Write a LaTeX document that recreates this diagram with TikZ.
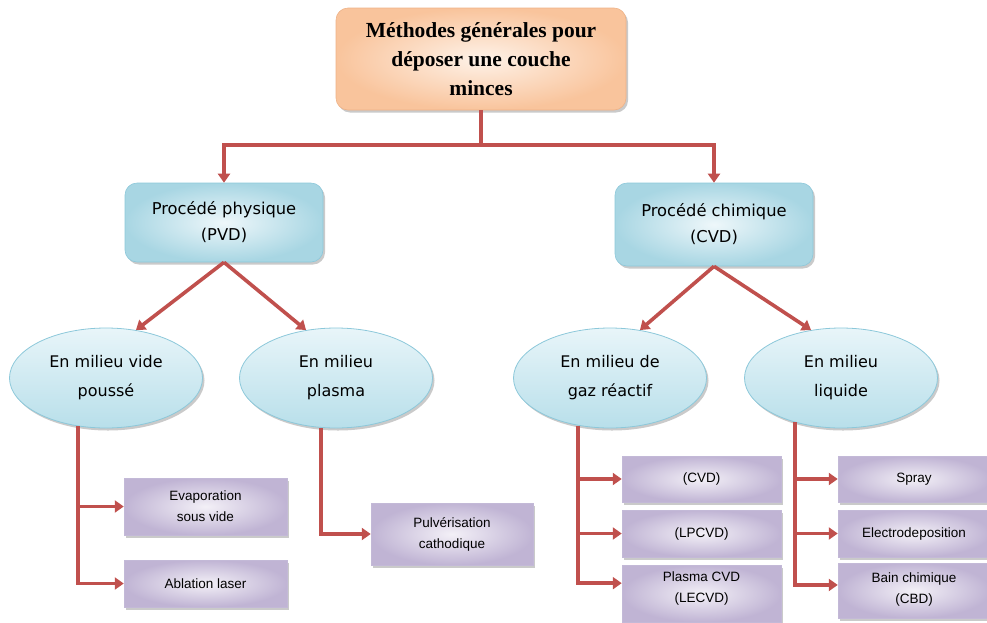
\documentclass[tikz,border=0pt]{standalone}
\usepackage{fontspec}
\setmainfont{DejaVu Sans}
\newfontfamily\titlefont{Liberation Serif}
\newfontfamily\smallfont{Liberation Sans}
\usetikzlibrary{shapes.geometric,arrows.meta,shadows,calc}
\definecolor{linkred}{RGB}{192,80,77}
\definecolor{orEdge}{RGB}{249,196,156}
\definecolor{orCenter}{RGB}{254,242,232}
\definecolor{orBorder}{RGB}{238,178,135}
\definecolor{blEdge}{RGB}{168,214,227}
\definecolor{blCenter}{RGB}{238,247,250}
\definecolor{blBorder}{RGB}{140,200,218}
\definecolor{elTop}{RGB}{232,245,249}
\definecolor{elBot}{RGB}{184,223,234}
\definecolor{puEdge}{RGB}{192,180,212}
\definecolor{puCenter}{RGB}{243,240,247}
\definecolor{puBorder}{RGB}{195,185,215}
\tikzset{
  softshadow/.style={drop shadow={shadow xshift=2pt,shadow yshift=-2.5pt,opacity=0.35,fill=black!60}},
  titlebox/.style={rectangle,rounded corners=12pt,draw=orBorder,line width=0.6pt,
    shading=radial,inner color=orCenter,outer color=orEdge,softshadow,
    align=center,font=\titlefont\bfseries\fontsize{21.5}{29}\selectfont},
  procbox/.style={rectangle,rounded corners=12pt,draw=blBorder,line width=0.6pt,
    shading=radial,inner color=blCenter,outer color=blEdge,softshadow,
    align=center,font=\fontsize{16.3}{26}\selectfont},
  milieu/.style={ellipse,draw=blBorder,line width=0.8pt,minimum width=193pt,minimum height=100pt,
    inner sep=0pt,top color=elTop,bottom color=elBot,softshadow,
    align=center,font=\fontsize{16}{29}\selectfont},
  leaf/.style={rectangle,draw=puBorder,line width=0.5pt,shading=radial,inner color=puCenter,
    outer color=puEdge,softshadow,inner sep=0pt,align=center,
    font=\smallfont\fontsize{13.5}{21}\selectfont},
  link/.style={draw=linkred,line width=3.6pt},
  linkarrow/.style={link,-{Triangle[length=9pt,width=12pt]}},
}
\begin{document}
\begin{tikzpicture}[x=1pt,y=-1pt]
\useasboundingbox (0,0) rectangle (987,622);

\node[titlebox,minimum width=290pt,minimum height=102pt] (top) at (481,59)
  {Méthodes générales pour\\déposer une couche\\minces};

\node[procbox,minimum width=198pt,minimum height=79pt] (pvd) at (224,222.5)
  {Procédé physique\\(PVD)};
\node[procbox,minimum width=198pt,minimum height=83pt] (cvd) at (714,224.5)
  {Procédé chimique\\(CVD)};

\node[milieu] (e1) at (106,378) {En milieu vide\\poussé};
\node[milieu] (e2) at (336,378) {En milieu\\plasma};
\node[milieu] (e3) at (610,378) {En milieu de\\gaz réactif};
\node[milieu] (e4) at (841,378) {En milieu\\liquide};

\node[leaf,minimum width=163pt,minimum height=57pt] (evap) at (205.5,506.5) {Evaporation\\sous vide};
\node[leaf,minimum width=163pt,minimum height=47pt] (abl) at (205.5,583.5) {Ablation laser};
\node[leaf,minimum width=162pt,minimum height=62pt] (pulv) at (452,534) {Pulvérisation\\cathodique};
\node[leaf,minimum width=159pt,minimum height=46pt] (c1) at (701.5,479) {(CVD)};
\node[leaf,minimum width=159pt,minimum height=47pt] (c2) at (701.5,533.5) {(LPCVD)};
\node[leaf,minimum width=159pt,minimum height=57pt,text depth=12pt] (c3) at (701.5,593.5) {Plasma CVD\\(LECVD)};
\node[leaf,minimum width=152pt,minimum height=46pt] (l1) at (914,479) {Spray};
\node[leaf,minimum width=152pt,minimum height=47pt] (l2) at (914,533.5) {Electrodeposition};
\node[leaf,minimum width=152pt,minimum height=55pt,text depth=5pt] (l3) at (914,590.5) {Bain chimique\\(CBD)};

% top connectors
\coordinate (j1) at (top.south |- 0,145);
\draw[link] (top.south) -- (j1);
\draw[linkarrow] (j1) -| (pvd.north);
\draw[linkarrow] (j1) -| (cvd.north);

% diagonal connectors
\draw[linkarrow] (pvd.south) -- (e1.58);
\draw[linkarrow] (pvd.south) -- (e2.122);
\draw[linkarrow] (cvd.south) -- (e3.58);
\draw[linkarrow] (cvd.south) -- (e4.122);

% leaves
\coordinate (c3in) at ($(c3.north west)!0.32!(c3.south west)$);
\coordinate (l3in) at ($(l3.north west)!0.4!(l3.south west)$);

\draw[linkarrow] (e1.240) |- (abl.west);
\draw[linkarrow] (e1.240 |- evap.west) -- (evap.west);

\draw[linkarrow] (e2.253) |- (pulv.west);

\draw[linkarrow] (e3.236) |- (c3in);
\draw[linkarrow] (e3.236 |- c1.west) -- (c1.west);
\draw[linkarrow] (e3.236 |- c2.west) -- (c2.west);

\draw[linkarrow] (e4.224) |- (l3in);
\draw[linkarrow] (e4.224 |- l1.west) -- (l1.west);
\draw[linkarrow] (e4.224 |- l2.west) -- (l2.west);
\end{tikzpicture}
\end{document}
